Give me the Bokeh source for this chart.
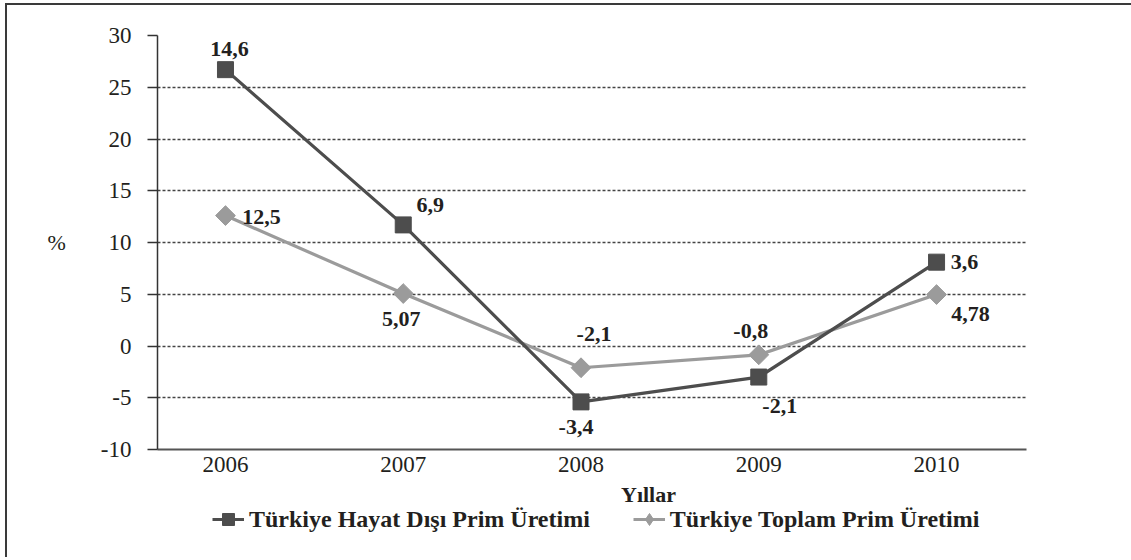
from bokeh.plotting import figure
from bokeh.layouts import column
from bokeh.models import (Range1d, FixedTicker, Legend, LegendItem, Label, ColumnDataSource)
from bokeh.core.properties import value
from bokeh.embed import file_html
from bokeh.resources import INLINE

# ---- data ----
years = [2006, 2007, 2008, 2009, 2010]
hayat_disi = [26.7, 11.7, -5.4, -3.0, 8.1]          # plotted positions
hayat_disi_labels = ["14,6", "6,9", "-3,4", "-2,1", "3,6"]
toplam = [12.6, 5.07, -2.1, -0.85, 4.97]
toplam_labels = ["12,5", "5,07", "-2,1", "-0,8", "4,78"]
y_ticks = [-10, -5, 0, 5, 10, 15, 20, 25, 30]
y_tick_labels = ["-10", "-5", "0", "5", "10", "15", "20", "25", "30"]
series_names = ["Türkiye Hayat Dışı Prim Üretimi", "Türkiye Toplam Prim Üretimi"]
x_title = "Yıllar"
y_title = "%"

# ---- layout/style (screen offsets for data labels) ----
dark_dx = [4, 27, -5, 21, 28]
dark_dy = [-21, -20, 25, 29, 0]
light_dx = [36, -2, 13, -8, 34]
light_dy = [1, 25, -34, -24, 19]

FONT = "Liberation Serif"
TXT = "#231f20"
DARK = "#4d4d4d"
LIGHT = "#9b9b9b"
W = 1124

p = figure(width=W, height=477, output_backend="svg", toolbar_location=None,
           x_range=Range1d(2005.6176, 2010.506), y_range=Range1d(-10, 30),
           min_border_left=150, min_border_right=105, min_border_top=30,
           min_border_bottom=33)
p.outline_line_color = None
p.background_fill_color = "white"
p.border_fill_color = "white"

# axes
p.yaxis.ticker = FixedTicker(ticks=y_ticks)
p.yaxis.major_label_overrides = dict(zip(y_ticks, y_tick_labels))
p.yaxis.major_tick_out = 10
p.yaxis.major_tick_in = 0
p.yaxis.minor_tick_line_color = None
p.yaxis.axis_line_color = "#333333"
p.yaxis.axis_line_width = 1.5
p.yaxis.major_tick_line_color = "#333333"
p.yaxis.major_tick_line_width = 1.5
p.yaxis.major_label_standoff = 16
p.yaxis.major_label_text_font = FONT
p.yaxis.major_label_text_font_size = "23px"
p.yaxis.major_label_text_color = TXT
p.yaxis.axis_label = y_title
p.yaxis.axis_label_orientation = "horizontal"
p.yaxis.axis_label_standoff = 32
p.yaxis.axis_label_text_font = FONT
p.yaxis.axis_label_text_font_size = "22px"
p.yaxis.axis_label_text_font_style = "normal"
p.yaxis.axis_label_text_color = TXT

p.xaxis.ticker = FixedTicker(ticks=years)
p.xaxis.major_label_overrides = {y: str(y) for y in years}
p.xaxis.major_tick_out = 0
p.xaxis.major_tick_in = 0
p.xaxis.minor_tick_line_color = None
p.xaxis.axis_line_color = "#555555"
p.xaxis.axis_line_width = 2
p.xaxis.major_label_standoff = 7
p.xaxis.major_label_text_font = FONT
p.xaxis.major_label_text_font_size = "23px"
p.xaxis.major_label_text_color = TXT

# grid
p.xgrid.grid_line_color = None
p.ygrid.ticker = FixedTicker(ticks=y_ticks[1:])
p.ygrid.grid_line_color = "#444444"
p.ygrid.grid_line_width = 1.3
p.ygrid.grid_line_dash = "3 2"

# series
src_d = ColumnDataSource(dict(x=years, y=hayat_disi, t=hayat_disi_labels, dx=dark_dx, dy=dark_dy))
src_l = ColumnDataSource(dict(x=years, y=toplam, t=toplam_labels, dx=light_dx, dy=light_dy))

p.line("x", "y", source=src_l, line_color=LIGHT, line_width=3.2)
p.line("x", "y", source=src_d, line_color=DARK, line_width=3.2)
p.scatter("x", "y", source=src_l, marker="square", angle=0.7853981634,
          size=14, fill_color=LIGHT, line_color=LIGHT)
p.scatter("x", "y", source=src_d, marker="square", size=16,
          fill_color=DARK, line_color=DARK)

for src in (src_d, src_l):
    p.text("x", "y", text="t", source=src, x_offset="dx", y_offset="dy",
           text_align="center", text_baseline="middle",
           text_font=value(FONT), text_font_size="22px", text_font_style="bold",
           text_color=TXT)

# ---- lower strip: x title + legend (frame aligned with the main frame) ----
H2 = 75
p2 = figure(width=W, height=H2, output_backend="svg", toolbar_location=None,
            x_range=Range1d(157, 1026), y_range=Range1d(0, H2),
            min_border=0, x_axis_location=None, y_axis_location=None)
p2.outline_line_color = None
p2.grid.grid_line_color = None
p2.background_fill_color = "white"
p2.border_fill_color = "white"

p2.add_layout(Label(x=648, y=63, text=x_title, text_font=FONT, text_font_size="22px",
                    text_font_style="bold", text_color=TXT, text_align="center",
                    text_baseline="middle"))

# legend proxies share the series data (they fall outside this strip's ranges)
lg_d_line = p2.line("x", "y", source=src_d, line_color=DARK, line_width=3.2)
lg_d_mark = p2.scatter("x", "y", source=src_d, marker="square", size=12,
                       fill_color=DARK, line_color=DARK)
lg_l_line = p2.line("x", "y", source=src_l, line_color=LIGHT, line_width=3.2)
lg_l_mark = p2.scatter("x", "y", source=src_l, marker="diamond", size=12,
                       fill_color=LIGHT, line_color=LIGHT)

legend = Legend(items=[LegendItem(label=series_names[0], renderers=[lg_d_line, lg_d_mark]),
                       LegendItem(label=series_names[1], renderers=[lg_l_line, lg_l_mark])],
                orientation="horizontal", location=(55, 23),
                glyph_width=32, glyph_height=30, label_height=30, label_standoff=5,
                spacing=43, padding=0, margin=0,
                border_line_color=None, background_fill_alpha=0,
                label_text_font=FONT, label_text_font_size="24px",
                label_text_font_style="bold", label_text_color=TXT)
p2.add_layout(legend, "center")

layout = column(p, p2, spacing=0,
                styles={"margin-left": "5px", "margin-top": "3px",
                        "border-left": "2px solid #3a3a3a", "border-top": "2px solid #3a3a3a"})

open("out.html", "w").write(file_html(layout, INLINE))
